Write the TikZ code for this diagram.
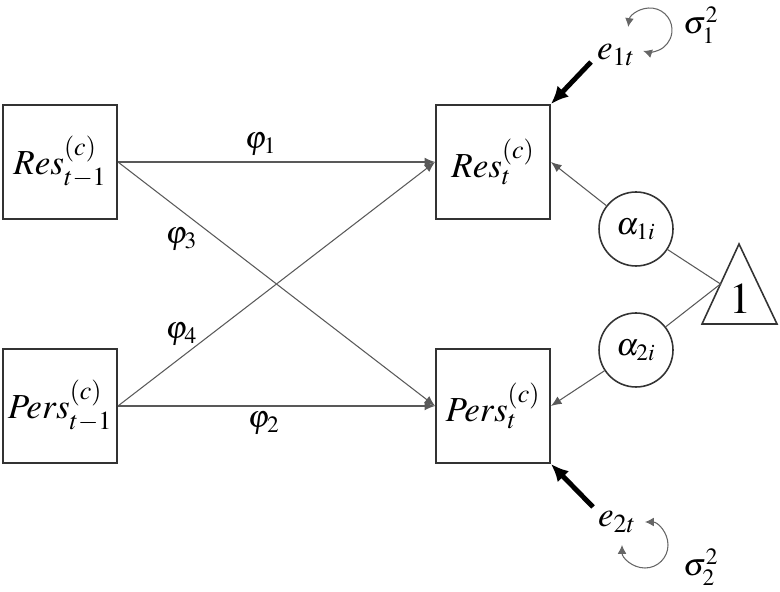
\documentclass[tikz,border=0pt]{standalone}
\usepackage{mathptmx}
\usetikzlibrary{arrows.meta}

\tikzset{
	obs/.style={draw=black!80, line width=1.1pt, minimum size=2.28cm, inner sep=0pt, font=\fontsize{20}{22}\selectfont},
	lat/.style={draw=black!80, line width=0.9pt, circle, minimum size=1.48cm, inner sep=0pt, font=\fontsize{18}{20}\selectfont},
	reg/.style={draw=black!65, line width=0.6pt, -{Latex[length=6pt,width=5pt]}},
	err/.style={line width=2.8pt, -{Latex[length=10pt,width=9pt]}},
	vloop/.style={draw=black!60, line width=0.6pt, {Latex[length=5pt,width=5pt]}-{Latex[length=5pt,width=5pt]}},
	lab/.style={font=\fontsize{18}{20}\selectfont}
}

\begin{document}
\begin{tikzpicture}[x=0.02cm,y=0.02cm]
		\useasboundingbox (0,0) rectangle (780,591);
		\node[obs] (resA) at (60,429) {$Res^{(c)}_{t-1}$};
		\node[obs] (resB) at (493,429) {$Res^{(c)}_{t}$};
		\node[obs] (persA) at (60,185) {$Pers^{(c)}_{t-1}$};
		\node[obs] (persB) at (493,185) {$Pers^{(c)}_{t}$};
		\node[lat] (alphaA) at (636,362) {$\alpha_{1i}$};
		\node[lat] (alphaB) at (636,241) {$\alpha_{2i}$};
		% constant
		\draw[black!80, line width=0.9pt] (702,267) -- (777,267) -- (739,347) -- cycle;
		\node[font=\fontsize{25}{28}\selectfont] (one) at (740,292) {$1$};
		\coordinate (tri) at (720.5,307);
		% errors
		\node[font=\fontsize{20}{22}\selectfont, inner sep=1pt] (eA) at (616,536) {$e_{1t}$};
		\node[font=\fontsize{20}{22}\selectfont, inner sep=1pt] (eB) at (617,69) {$e_{2t}$};
		\node[lab] (sigA) at (701,566) {$\sigma^2_1$};
		\node[lab] (sigB) at (701,24) {$\sigma^2_2$};
		% paths
		\draw[reg] (resA.east) -- node[lab,pos=0.45,above] {$\varphi_1$} (resB.west);
		\draw[reg] (persA.east) -- node[lab,pos=0.46,below] {$\varphi_2$} (persB.west);
		\draw[reg] (resA.east) -- node[lab,pos=0.2,below=6pt] {$\varphi_3$} (persB.west);
		\draw[reg] (persA.east) -- node[lab,pos=0.2,above=3pt] {$\varphi_4$} (resB.west);
		\draw[reg] (alphaA) -- (resB.east);
		\draw[reg] (alphaB) -- (persB.east);
		\draw[draw=black!65, line width=0.6pt] (alphaA) -- (tri) -- (alphaB);
		\draw[err] ([shift={(-25,-7)}]eA.center) -- (resB.north east);
		\draw[err] ([shift={(-24,15)}]eB.center) -- (persB.south east);
		\draw[vloop] (650,561) ++(172:22) arc[start angle=172, end angle=-108, radius=22];
		\draw[vloop] (645,46) ++(90:23) arc[start angle=90, end angle=-180, radius=23];
	\end{tikzpicture}
\end{document}
